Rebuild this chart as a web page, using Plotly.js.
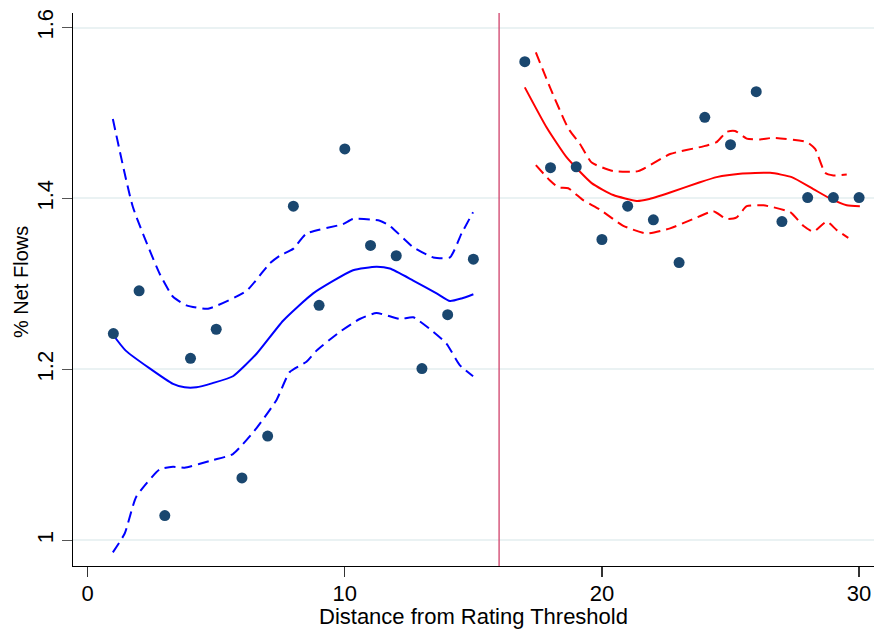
<!DOCTYPE html>
<html>
<head>
<meta charset="utf-8">
<script src="https://cdn.plot.ly/plotly-3.0.1.min.js"></script>
<style>html,body{margin:0;padding:0;background:#fff;}#chart{width:889px;height:639px;}</style>
</head>
<body>
<div id="chart"></div>
<script>
// Scatter points (binned means)
const pointX = [1,2,3,4,5,6,7,8,9,10,11,12,13,14,15,17,18,19,20,21,22,23,24,25,26,27,28,29,30];
const pointY = [1.242,1.292,1.029,1.213,1.247,1.073,1.122,1.391,1.275,1.458,1.345,1.333,1.201,1.264,1.329,
                1.560,1.436,1.437,1.352,1.391,1.375,1.325,1.495,1.463,1.525,1.373,1.401,1.401,1.401];

// Left side fit (below threshold)
const leftFitX = [0.95,1.48,3.32,3.77,4.23,4.86,5.65,6.56,7.6,8.77,10.32,11.23,11.75,12.66,13.57,14.09,14.54,15.0];
const leftFitY = [1.242,1.222,1.183,1.179,1.179,1.184,1.192,1.218,1.257,1.289,1.316,1.320,1.318,1.304,1.289,1.280,1.283,1.288];
const leftUpX = [0.98,1.76,2.80,3.32,3.84,4.68,6.18,7.08,7.47,7.99,8.51,9.93,10.32,11.36,11.75,12.66,13.44,14.09,14.54,14.99];
const leftUpY = [1.493,1.390,1.312,1.285,1.275,1.271,1.292,1.324,1.333,1.341,1.359,1.370,1.376,1.374,1.368,1.343,1.331,1.331,1.359,1.384];
const leftLoX = [0.98,1.44,1.89,2.80,3.32,3.77,4.88,5.65,6.56,7.34,7.86,8.51,8.9,9.81,10.58,11.23,12.14,12.66,13.44,13.96,14.47,14.99];
const leftLoY = [0.986,1.008,1.051,1.083,1.086,1.085,1.094,1.101,1.131,1.164,1.197,1.209,1.222,1.244,1.259,1.266,1.259,1.261,1.244,1.230,1.205,1.192];

// Right side fit (above threshold)
const rightFitX = [17.0,17.85,18.63,19.60,20.44,21.35,21.80,22.65,23.81,24.46,25.37,26.54,27.38,28.22,28.87,29.52,30.03];
const rightFitY = [1.530,1.483,1.448,1.418,1.404,1.397,1.399,1.407,1.419,1.425,1.429,1.430,1.425,1.411,1.400,1.392,1.391];
const rightUpX = [17.43,17.98,18.69,19.14,19.60,20.44,21.41,22.65,23.94,24.46,24.85,25.18,25.63,26.15,26.67,27.97,28.29,28.68,29.0,29.52];
const rightUpY = [1.571,1.530,1.482,1.464,1.442,1.432,1.432,1.452,1.461,1.466,1.478,1.479,1.470,1.469,1.471,1.466,1.458,1.430,1.427,1.428];
const rightLoX = [17.43,17.98,18.30,18.69,19.27,19.92,20.83,21.74,22.65,23.55,24.33,24.85,25.24,25.63,26.28,27.32,27.83,28.22,28.74,29.13,29.58];
const rightLoY = [1.439,1.421,1.413,1.412,1.398,1.387,1.368,1.359,1.365,1.376,1.385,1.376,1.378,1.391,1.392,1.384,1.368,1.361,1.373,1.363,1.354];

const threshold = 16;
const yTicks = [1, 1.2, 1.4, 1.6];
const yTickText = ['1', '1.2', '1.4', '1.6'];
const xTicks = [0, 10, 20, 30];
const xTitle = 'Distance from Rating Threshold';
const yTitle = '% Net Flows';

const blue = '#0000ff', red = '#ff0000';
const dashPat = '11px,6px';
function line(x, y, color, dash) {
  return {x: x, y: y, type: 'scatter', mode: 'lines', hoverinfo: 'skip',
          line: {color: color, width: 2, dash: dash || 'solid', shape: 'spline', smoothing: 0.5}};
}

const traces = [
  line(leftFitX, leftFitY, blue),
  line(leftUpX, leftUpY, blue, dashPat),
  line(leftLoX, leftLoY, blue, dashPat),
  line(rightFitX, rightFitY, red),
  line(rightUpX, rightUpY, red, dashPat),
  line(rightLoX, rightLoY, red, dashPat),
  {x: pointX, y: pointY, type: 'scatter', mode: 'markers',
   marker: {color: '#1a476f', size: 11}}
];

const font = {family: 'Liberation Sans, Arial, sans-serif', color: '#000'};
const layout = {
  width: 889, height: 639,
  margin: {l: 73, r: 15, t: 13, b: 73, pad: 0},
  paper_bgcolor: '#fff', plot_bgcolor: '#fff',
  showlegend: false,
  font: Object.assign({size: 21}, font),
  xaxis: {
    range: [-0.57, 30.58], tickvals: xTicks, ticktext: xTicks.map(String),
    showgrid: false, zeroline: false,
    showline: true, linecolor: '#000', linewidth: 1.3, mirror: false,
    ticks: 'outside', ticklen: 10, tickwidth: 1.2, tickcolor: '#333',
    ticklabelstandoff: -3,
    tickfont: Object.assign({size: 22}, font),
    automargin: false
  },
  yaxis: {
    range: [0.970, 1.617], tickvals: yTicks, ticktext: yTickText, tickangle: -90,
    showgrid: true, gridcolor: '#eaf2f3', gridwidth: 2, zeroline: false,
    showline: true, linecolor: '#000', linewidth: 1.3, mirror: false,
    ticks: 'outside', ticklen: 10, tickwidth: 1.2, tickcolor: '#555',
    tickfont: Object.assign({size: 22}, font),
    automargin: false
  },
  annotations: [
    {text: xTitle, xref: 'paper', yref: 'paper', x: 0.5, y: -0.0915,
     xanchor: 'center', yanchor: 'middle', showarrow: false,
     font: Object.assign({size: 22}, font)},
    {text: yTitle, xref: 'paper', yref: 'paper', x: -0.064, y: 0.513,
     xanchor: 'center', yanchor: 'middle', textangle: -90, showarrow: false,
     font: Object.assign({size: 20}, font)}
  ],
  shapes: [{type: 'line', xref: 'x', yref: 'paper', x0: threshold, x1: threshold, y0: 0, y1: 1,
            line: {color: '#d0406a', width: 1.3}}]
};

Plotly.newPlot('chart', traces, layout, {staticPlot: true, displayModeBar: false});
</script>
</body>
</html>
